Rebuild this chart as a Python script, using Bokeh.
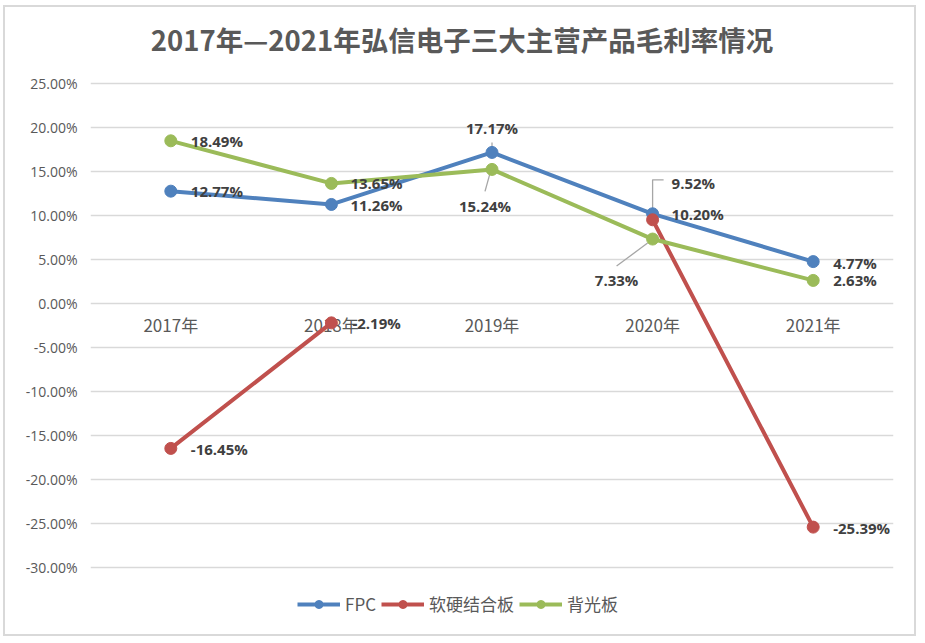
from bokeh.plotting import figure
from bokeh.models import Range1d, Legend, LegendItem, FixedTicker, ColumnDataSource, CustomJSTickFormatter
from bokeh.core.properties import value
from bokeh.embed import file_html
from bokeh.resources import INLINE

# ---------------- data ----------------
title_text = "2017年—2021年弘信电子三大主营产品毛利率情况"
years = ["2017年", "2018年", "2019年", "2020年", "2021年"]
fpc = [12.77, 11.26, 17.17, 10.20, 4.77]
rigid_flex = [-16.45, -2.19, float("nan"), 9.52, -25.39]
backlight = [18.49, 13.65, 15.24, 7.33, 2.63]
series_names = ["FPC", "软硬结合板", "背光板"]
y_ticks = [-30, -25, -20, -15, -10, -5, 0, 5, 10, 15, 20, 25]

# ---------------- style ----------------
colors = ["#4F81BD", "#C0504D", "#9BBB59"]
OFF_X, OFF_Y = 5, 7           # figure offset inside the page (for the outer frame line)
W, H = 909, 627
FRAME_LEFT, FRAME_RIGHT = 90 - OFF_X, 893 - OFF_X
FRAME_BOTTOM = 625 - OFF_Y
FRAME_W = FRAME_RIGHT - FRAME_LEFT
PX_Y = 493 / 56.0             # pixels per percentage point
PX_X = FRAME_W / 5.0
TOP_LINE = 83 - OFF_Y         # pixel row of the 25% grid line inside the figure
Y1 = 25 + TOP_LINE / PX_Y
Y0 = 25 - (FRAME_BOTTOM - TOP_LINE) / PX_Y

# label offsets in pixels (dx, dy screen, align)
label_style = {
    0: [(20, 0, "left"), (19, 1, "left"), (0, -24, "center"), (19, 0, "left"), (20, 1, "left")],
    1: [(20, 1, "left"), (21, 0, "left"), None, (19, -37, "left"), (20, 1, "left")],
    2: [(20, 0, "left"), (19, 0, "left"), (-7, 37, "center"), (-36, 41, "center"), (20, 0, "left")],
}
# leader lines: (series, index, pixel path)
leaders = [
    (0, 2, [(0, -10), (0, -3)]),
    (2, 2, [(-2, 4), (-7, 22)]),
    (1, 3, [(0, -6), (0, -40), (11, -40)]),
    (2, 3, [(-5, 4), (-36, 27)]),
]

p = figure(width=W, height=H, output_backend="svg", toolbar_location=None,
           x_range=Range1d(-0.5, 4.5), y_range=Range1d(Y0, Y1),
           x_axis_location=None,
           min_border_left=FRAME_LEFT, min_border_right=W - FRAME_RIGHT,
           min_border_top=0, min_border_bottom=H - FRAME_BOTTOM)
p.styles = {"outline": "2px solid #d9d9d9", "outline-offset": "0px",
            "margin-left": f"{OFF_X}px", "margin-top": f"{OFF_Y}px"}
p.outline_line_color = None
p.background_fill_color = "white"
p.border_fill_color = "white"
p.title.visible = False

p.xgrid.visible = False
p.ygrid.ticker = FixedTicker(ticks=y_ticks)
p.ygrid.grid_line_color = "#d9d9d9"
p.ygrid.grid_line_width = 1.4

ax = p.yaxis[0]
ax.ticker = FixedTicker(ticks=y_ticks)
ax.formatter = CustomJSTickFormatter(code="return tick.toFixed(2) + '%';")
ax.axis_line_color = None
ax.major_tick_line_color = None
ax.minor_tick_line_color = None
ax.major_tick_out = 0
ax.major_tick_in = 0
ax.major_label_standoff = 13
ax.major_label_text_font = "Open Sans"
ax.major_label_text_font_size = "14px"
ax.major_label_text_color = "#595959"

xs = list(range(len(years)))

# chart title (inside the frame, top area)
p.text(x=[2], y=[Y1], text=[title_text], text_align="center", text_baseline="middle",
       x_offset=-30, y_offset=38 - OFF_Y, text_font=value("Noto Sans CJK SC"),
       text_font_size="27.5px", text_font_style="bold", text_color="#595959")

# category labels along the zero line
p.text(x=xs, y=[0] * len(xs), text=years, text_align="center", text_baseline="middle",
       y_offset=21, text_font=value("Noto Sans CJK SC"), text_font_size="17px",
       text_color="#595959")

all_series = [fpc, rigid_flex, backlight]

# leader lines
for si, idx, path in leaders:
    v = all_series[si][idx]
    lx = [idx + dx / PX_X for dx, dy in path]
    ly = [v - dy / PX_Y for dx, dy in path]
    p.line(lx, ly, line_color="#a6a6a6", line_width=1.3)

items = []
for si, (vals, name, col) in enumerate(zip(all_series, series_names, colors)):
    src = ColumnDataSource(dict(x=xs, y=vals))
    ln = p.line("x", "y", source=src, line_color=col, line_width=4)
    sc = p.scatter("x", "y", source=src, size=12, fill_color=col, line_color=col)
    items.append(LegendItem(label=name, renderers=[ln, sc]))

for si, vals in enumerate(all_series):
    for i, v in enumerate(vals):
        st = label_style[si][i]
        if st is None or v != v:
            continue
        dx, dy, al = st
        p.text(x=[i], y=[v], text=[f"{v:.2f}%"], x_offset=dx, y_offset=dy,
               text_align=al, text_baseline="middle",
               text_font=value("Open Sans"), text_font_style="bold",
               text_font_size="15px", text_color="#404040")

legend = Legend(items=items, orientation="horizontal", location=(207, 9),
                glyph_width=43, glyph_height=20, label_standoff=5, spacing=5,
                padding=0, margin=0, border_line_color=None, background_fill_alpha=0,
                label_text_font="Noto Sans CJK SC", label_text_font_size="17px",
                label_text_color="#595959", label_height=20)
p.add_layout(legend)

open("out.html", "w").write(file_html(p, INLINE))
